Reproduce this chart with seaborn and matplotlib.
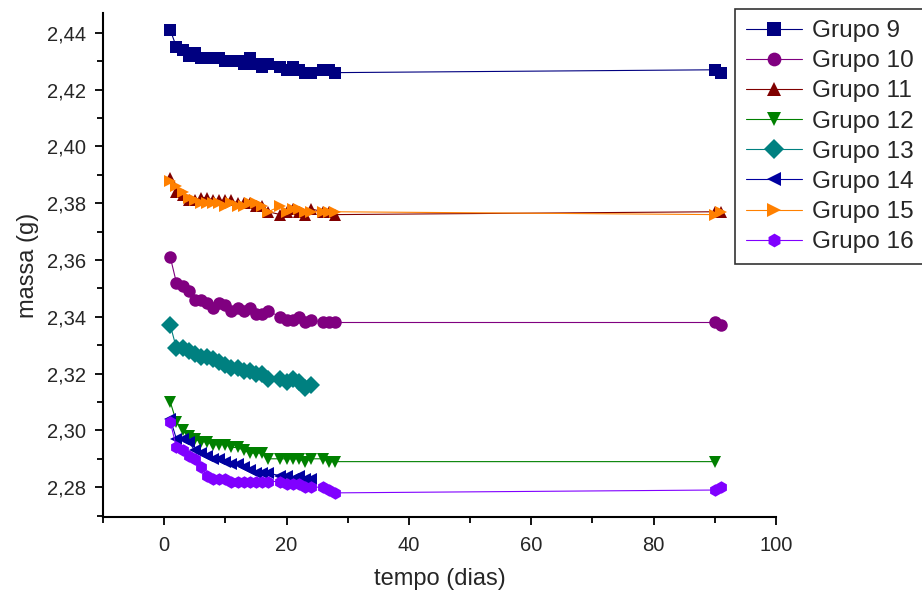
import matplotlib
matplotlib.use("Agg")
import matplotlib.pyplot as plt
from matplotlib.ticker import MultipleLocator, FuncFormatter
import seaborn as sns
import pandas as pd

# ---- data ----
days_full = [1, 2, 3, 4, 5, 6, 7, 8, 9, 10, 11, 12, 13, 14, 15, 16, 17, 19, 20, 21, 22, 23, 24, 26, 27, 28, 90, 91]
days_short = [1, 2, 3, 4, 5, 6, 7, 8, 9, 10, 11, 12, 13, 14, 15, 16, 17, 19, 20, 21, 22, 23, 24]
days_g12 = days_full[:-1]

g9 = [2.441, 2.435, 2.434, 2.432, 2.433, 2.431, 2.431, 2.431, 2.431, 2.430, 2.430, 2.430, 2.429, 2.431,
      2.429, 2.428, 2.429, 2.428, 2.427, 2.428, 2.427, 2.426, 2.426, 2.427, 2.427, 2.426, 2.427, 2.426]
g10 = [2.361, 2.352, 2.351, 2.349, 2.346, 2.346, 2.345, 2.343, 2.345, 2.344, 2.342, 2.343, 2.342, 2.343,
       2.341, 2.341, 2.342, 2.340, 2.339, 2.339, 2.340, 2.338, 2.339, 2.338, 2.338, 2.338, 2.338, 2.337]
g11 = [2.389, 2.384, 2.383, 2.381, 2.381, 2.382, 2.382, 2.381, 2.381, 2.381, 2.381, 2.380, 2.380, 2.380,
       2.379, 2.379, 2.377, 2.376, 2.377, 2.378, 2.377, 2.376, 2.378, 2.377, 2.377, 2.376, 2.377, 2.377]
g12 = [2.310, 2.303, 2.300, 2.298, 2.297, 2.296, 2.296, 2.295, 2.295, 2.295, 2.294, 2.294, 2.293, 2.292,
       2.292, 2.292, 2.290, 2.290, 2.290, 2.290, 2.290, 2.289, 2.290, 2.290, 2.289, 2.289, 2.289]
g13 = [2.337, 2.329, 2.329, 2.328, 2.327, 2.326, 2.326, 2.325, 2.324, 2.323, 2.322, 2.322, 2.321, 2.321,
       2.320, 2.320, 2.318, 2.318, 2.317, 2.318, 2.317, 2.315, 2.316]
g14 = [2.304, 2.297, 2.297, 2.296, 2.293, 2.292, 2.291, 2.290, 2.290, 2.289, 2.288, 2.288, 2.287, 2.286,
       2.285, 2.285, 2.285, 2.284, 2.284, 2.283, 2.284, 2.283, 2.283]
g15 = [2.388, 2.386, 2.384, 2.382, 2.381, 2.380, 2.380, 2.380, 2.380, 2.379, 2.380, 2.379, 2.379, 2.380,
       2.380, 2.379, 2.377, 2.379, 2.377, 2.378, 2.378, 2.377, 2.377, 2.377, 2.377, 2.377, 2.376, 2.377]
g16 = [2.303, 2.294, 2.293, 2.291, 2.290, 2.287, 2.284, 2.283, 2.283, 2.283, 2.282, 2.282, 2.282, 2.282,
       2.282, 2.282, 2.282, 2.282, 2.281, 2.281, 2.281, 2.280, 2.280, 2.280, 2.279, 2.278, 2.279, 2.280]

groups = ["Grupo 9", "Grupo 10", "Grupo 11", "Grupo 12", "Grupo 13", "Grupo 14", "Grupo 15", "Grupo 16"]
series = [(days_full, g9), (days_full, g10), (days_full, g11), (days_g12, g12),
          (days_short, g13), (days_short, g14), (days_full, g15), (days_full, g16)]

colors = ["#000080", "#800080", "#800000", "#008000", "#008080", "#0000A0", "#FF8000", "#8000FF"]
markers = ["s", "o", "^", "v", "D", "<", ">", "h"]

rows = []
for name, (d, v) in zip(groups, series):
    for x, y in zip(d, v):
        rows.append({"tempo": x, "massa": y, "grupo": name})
df = pd.DataFrame(rows)

sns.set_style("ticks")
plt.rcParams["font.family"] = ["Liberation Sans", "DejaVu Sans"]

fig = plt.figure(figsize=(9.22, 6.0), dpi=100)
ax = fig.add_axes([103 / 922, 83 / 600, 673 / 922, 504 / 600])

sns.lineplot(data=df, x="tempo", y="massa", hue="grupo", style="grupo",
             hue_order=groups, style_order=groups,
             palette=dict(zip(groups, colors)), markers=dict(zip(groups, markers)),
             dashes=False, estimator=None, sort=True, ax=ax,
             linewidth=0.8, markersize=9, markeredgewidth=0)

ax.set_xlim(-10, 100)
ax.set_ylim(2.2695, 2.447)
ax.xaxis.set_major_locator(MultipleLocator(20))
ax.xaxis.set_minor_locator(MultipleLocator(10))
ax.yaxis.set_major_locator(MultipleLocator(0.02))
ax.yaxis.set_minor_locator(MultipleLocator(0.01))
ax.yaxis.set_major_formatter(FuncFormatter(lambda v, p: f"{v:.2f}".replace(".", ",")))
ax.tick_params(axis="both", which="major", direction="out", length=6, width=1.3,
               labelsize=14.5, color="black", pad=6)
ax.tick_params(axis="x", which="major", pad=8)
ax.tick_params(axis="both", which="minor", direction="out", length=4, width=1.3, color="black")
for s in ["top", "right"]:
    ax.spines[s].set_visible(False)
for s in ["left", "bottom"]:
    ax.spines[s].set_linewidth(1.5)
    ax.spines[s].set_color("black")

ax.set_xlabel("tempo (dias)", fontsize=17, labelpad=9)
ax.set_ylabel("massa (g)", fontsize=17, labelpad=6)

leg = ax.legend(loc="upper right", bbox_to_anchor=(1.003, 0.985), bbox_transform=fig.transFigure,
                fontsize=17.6, frameon=True, fancybox=False, edgecolor="black",
                labelspacing=0.33, handlelength=2.3, borderpad=0.45, handletextpad=0.4,
                borderaxespad=0, markerscale=1.1)
leg.get_frame().set_linewidth(1.2)

fig.savefig("out.png", dpi=100)
